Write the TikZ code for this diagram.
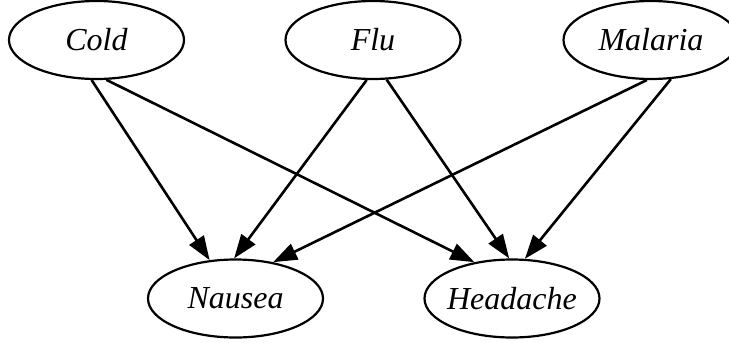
\documentclass[tikz,border=0pt]{standalone}
\usepackage{fontspec}
\setmainfont{Liberation Serif}
\usetikzlibrary{shapes.geometric,arrows.meta}
% zero-width label so every ellipse keeps the same fixed size
\newcommand\varlabel[1]{\makebox[0pt]{#1}}
\begin{document}
\begin{tikzpicture}[x=1pt,y=-1pt,
  var/.style={ellipse, draw, line width=2.2pt, inner sep=0pt,
    minimum width=175pt, minimum height=78pt,
    font=\fontsize{32}{38}\selectfont\itshape},
  link/.style={line width=2.6pt, -{Triangle[length=24pt,width=17pt]}}]
\useasboundingbox (0,0) rectangle (729,343);
\clip (0,0) rectangle (729,343);
% causes (top row)
\node[var] (cold)    at (96.5,40)  {\varlabel{Cold}};
\node[var] (flu)     at (373,40)   {\varlabel{Flu}};
\node[var] (malaria) at (651,40)   {\varlabel{Malaria}};
% symptoms (bottom row)
\node[var] (nausea)   at (235.5,298.5) {\varlabel{Nausea}};
\node[var] (headache) at (512,298.5)   {\varlabel{Headache}};
% dependencies
\draw[link] (cold.263)    -- (nausea.124);
\draw[link] (cold.284)    -- (headache.136);
\draw[link] (flu.261)     -- (nausea.92);
\draw[link] (flu.289)     -- (headache.94);
\draw[link] (malaria.264) -- (nausea.44);
\draw[link] (malaria.297) -- (headache.72);
\end{tikzpicture}
\end{document}
